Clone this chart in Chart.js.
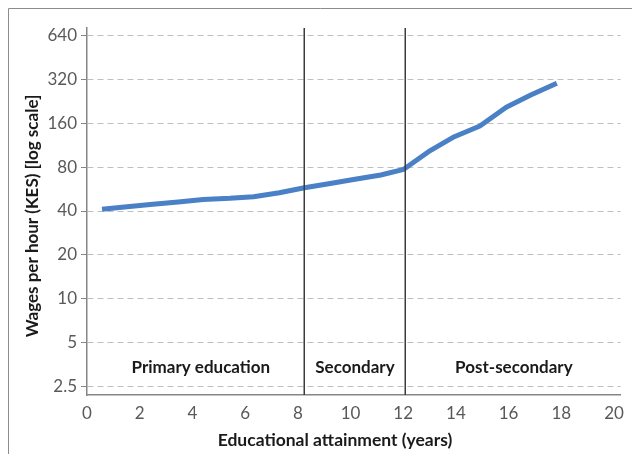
<!DOCTYPE html>
<html>
<head>
<meta charset="utf-8">
<script src="https://cdn.jsdelivr.net/npm/chart.js@4.4.1/dist/chart.umd.min.js"></script>
<style>
html,body{margin:0;padding:0;background:#fff;}
#wrap{position:relative;width:632px;height:454px;overflow:hidden;}
canvas{display:block;}
</style>
</head>
<body>
<div id="wrap"><canvas id="c" width="632" height="454"></canvas></div>
<script>
// Data
const years = [0.57, 1.52, 2.5, 3.46, 4.41, 5.42, 6.32, 7.3, 8.25, 9.23, 10.17, 11.15, 12.02, 12.96, 13.94, 14.91, 15.91, 16.84, 17.83];
const wages = [41.1, 42.8, 44.5, 46.1, 48.0, 48.9, 50.2, 53.4, 57.8, 61.8, 66.1, 70.8, 77.4, 102.4, 129.8, 153.7, 207, 251, 303];
const yTickValues = [2.5, 5, 10, 20, 40, 80, 160, 320, 640];
const xTickValues = [0, 2, 4, 6, 8, 10, 12, 14, 16, 18, 20];
const dividers = [8.25, 12.07];
const regionLabels = ["Primary education", "Secondary", "Post-secondary"];
const regionLabelX = [4.32, 10.17, 16.2];
const yTitle = "Wages per hour (KES) [log scale]";
const xTitle = "Educational attainment (years)";

const FONT = "Lato, 'Noto Sans', sans-serif";

const overlay = {
  id: 'overlay',
  beforeDraw(chart) {
    const ctx = chart.ctx;
    ctx.save();
    ctx.strokeStyle = '#8c8c8c';
    ctx.lineWidth = 1;
    ctx.beginPath();
    ctx.moveTo(8.5, 460);
    ctx.lineTo(8.5, 8.5);
    ctx.lineTo(640, 8.5);
    ctx.stroke();
    ctx.restore();
  },
  afterDatasetsDraw(chart) {
    const ctx = chart.ctx;
    const xs = chart.scales.x;
    const a = chart.chartArea;
    ctx.save();
    ctx.strokeStyle = '#3c3c3c';
    ctx.lineWidth = 1.5;
    dividers.forEach(d => {
      const px = Math.round(xs.getPixelForValue(d)) + 0.25;
      ctx.beginPath();
      ctx.moveTo(px, a.top);
      ctx.lineTo(px, a.bottom);
      ctx.stroke();
    });
    ctx.fillStyle = '#1a1a1a';
    ctx.textAlign = 'center';
    ctx.textBaseline = 'middle';
    ctx.font = "bold 17px " + FONT;
    regionLabels.forEach((t, i) => {
      ctx.fillText(t, xs.getPixelForValue(regionLabelX[i]), 368);
    });
    ctx.font = "bold 17.5px " + FONT;
    ctx.fillText(xTitle, 335, 440);
    ctx.font = "bold 17px " + FONT;
    ctx.translate(33, 216);
    ctx.rotate(-Math.PI / 2);
    ctx.fillText(yTitle, 0, 0);
    ctx.restore();
  }
};

new Chart(document.getElementById('c'), {
  type: 'line',
  data: {
    datasets: [{
      data: years.map((x, i) => ({x: x, y: wages[i]})),
      borderColor: '#4a80c6',
      borderWidth: 5,
      pointRadius: 0,
      tension: 0,
      fill: false,
      borderJoinStyle: 'round'
    }]
  },
  options: {
    responsive: false,
    animation: false,
    events: [],
    layout: {padding: {left: 0, top: 28, right: 9, bottom: 0}},
    plugins: {legend: {display: false}, tooltip: {enabled: false}, title: {display: false}},
    scales: {
      x: {
        type: 'linear',
        min: 0,
        max: 20.25,
        afterBuildTicks(s) { s.ticks = xTickValues.map(v => ({value: v})); },
        afterFit(s) { s.height = 454 - 395; },
        grid: {display: false, drawTicks: false},
        border: {display: true, color: '#868686', width: 1.5},
        ticks: {
          color: '#595959',
          font: {family: FONT, size: 17},
          padding: 8,
          maxRotation: 0,
          autoSkip: false,
          callback: v => String(v)
        }
      },
      y: {
        type: 'logarithmic',
        min: 2.17,
        max: 726,
        afterBuildTicks(s) { s.ticks = yTickValues.map(v => ({value: v})); },
        afterFit(s) { s.width = 87; },
        grid: {
          display: true,
          color: '#bfbfbf',
          lineWidth: 1,
          tickColor: '#868686',
          tickLength: 6,
          tickBorderDash: []
        },
        border: {display: true, color: '#868686', width: 1.5, dash: [6, 4]},
        ticks: {
          color: '#595959',
          font: {family: FONT, size: 17},
          padding: 4,
          autoSkip: false,
          callback: v => String(v)
        }
      }
    }
  },
  plugins: [overlay]
});
</script>
</body>
</html>
